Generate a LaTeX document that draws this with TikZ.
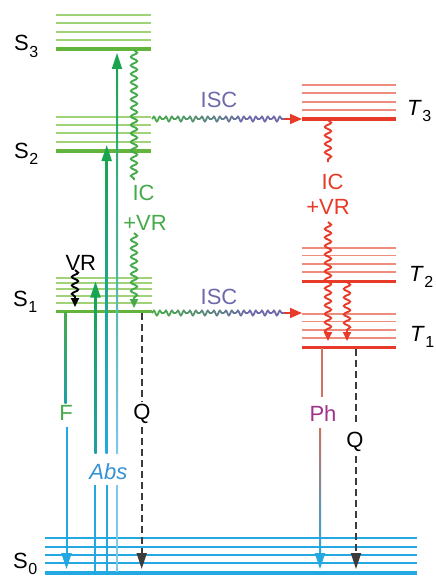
\documentclass[tikz,border=0pt]{standalone}
\usepackage{fontspec}
\setmainfont{Liberation Sans}
\usetikzlibrary{arrows.meta,decorations.pathmorphing}
\definecolor{sgreen}{RGB}{98,180,60}
\definecolor{sgreenlt}{RGB}{160,210,120}
\definecolor{sblue}{RGB}{35,168,225}
\definecolor{sbluelt}{RGB}{125,200,235}
\definecolor{tred}{RGB}{232,58,40}
\definecolor{tredlt}{RGB}{238,140,125}
\definecolor{absgreen}{RGB}{25,165,80}
\definecolor{absteal}{RGB}{30,160,165}
\definecolor{icgreen}{RGB}{70,170,75}
\definecolor{iscpurple}{RGB}{110,105,170}
\definecolor{phpurple}{RGB}{160,50,140}
\definecolor{phbrown}{RGB}{205,115,95}
\definecolor{abstext}{RGB}{55,145,210}
\definecolor{qgray}{RGB}{60,60,60}
\newcommand{\lvl}[2]{#1\kern0.5pt\raisebox{-6pt}{\fontsize{16}{16}\selectfont #2}}

\begin{document}
\begin{tikzpicture}[x=1pt,y=-1pt,font=\fontsize{22}{24}\selectfont,
  thinlvl/.style={line width=1.8pt},
  thicklvl/.style={line width=3.6pt},
  wig/.style={line width=1.9pt,decorate,decoration={snake,amplitude=3.2pt,segment length=8.5pt}},
  wigarr/.style={line width=1.9pt,decorate,decoration={snake,amplitude=3.2pt,segment length=8.5pt,post length=7pt},-{Triangle[length=9pt,width=8pt]}},
  iscwig/.style={line width=1.8pt,decorate,decoration={snake,amplitude=2.4pt,segment length=6pt}},
  bighead/.style={-{Triangle[length=16pt,width=10pt]}},
  quench/.style={qgray,line width=1.8pt,dash pattern=on 7pt off 4pt},
  lbl/.style={inner sep=0pt}]
  \useasboundingbox (0,0) rectangle (436,578);

  % singlet levels
  \foreach \y in {14.7,23.3,31.7,40} \draw[thinlvl,sgreenlt] (56,\y) -- (151,\y);
  \draw[thicklvl,sgreen] (56,49.3) -- (151,49.3);
  \foreach \y in {116.7,125,133.3,141.7} \draw[thinlvl,sgreenlt] (56,\y) -- (151,\y);
  \draw[thicklvl,sgreen] (56,150.7) -- (151,150.7);
  \foreach \y in {277.7,283.3,289.3,296,303} \draw[thinlvl,sgreenlt] (56,\y) -- (152,\y);
  \draw[thicklvl,sgreen] (56,311.5) -- (152,311.5);
  \foreach \y in {538.3,546.7,555,563.3} \draw[thinlvl,sblue] (45,\y) -- (417,\y);
  \draw[thicklvl,sblue] (45,572.7) -- (417,572.7);

  % triplet levels
  \foreach \y in {85,93.3,101.7,110} \draw[thinlvl,tredlt] (302,\y) -- (396,\y);
  \draw[thicklvl,tred] (302,119) -- (396,119);
  \foreach \y in {248,255.5,263.7,272} \draw[thinlvl,tredlt] (302,\y) -- (396,\y);
  \draw[thicklvl,tred] (302,281.5) -- (396,281.5);
  \foreach \y in {314,321.5,329.7,338} \draw[thinlvl,tredlt] (302,\y) -- (396,\y);
  \draw[thicklvl,tred] (302,347.5) -- (396,347.5);

  \node[lbl,anchor=base west] (s3) at (14,51) {\lvl{S}{3}};
  \node[lbl,anchor=base west] (s2) at (14,158.3) {\lvl{S}{2}};
  \node[lbl,anchor=base west] (s1) at (13,306) {\lvl{S}{1}};
  \node[lbl,anchor=base west] (s0) at (13,568) {\lvl{S}{0}};
  \node[lbl,anchor=base west] (t3) at (407,115) {\lvl{\textit{T}}{3}};
  \node[lbl,anchor=base west] (t2) at (409,281.6) {\lvl{\textit{T}}{2}};
  \node[lbl,anchor=base west] (t1) at (410,341) {\lvl{\textit{T}}{1}};

  % absorption
  \shade[top color=absgreen,bottom color=absteal] (94.5,290) rectangle (96.5,453);
  \shade[top color=absgreen,bottom color=sblue] (105.7,160) rectangle (107.7,453);
  \shade[top color=absgreen,bottom color=sbluelt] (116,60) rectangle (118,453);
  \draw[absgreen,line width=2pt,bighead] (95.5,300) -- (95.5,281.5);
  \draw[absgreen,line width=2pt,bighead] (106.7,165) -- (106.7,145);
  \draw[absgreen,line width=2pt,bighead] (117,72) -- (117,53);
  \draw[sblue,line width=2pt] (94.8,485) -- (94.8,572);
  \draw[sblue,line width=2pt] (106.7,485) -- (106.7,572);
  \draw[sbluelt,line width=2pt] (117.3,485) -- (117.3,572);
  \node[lbl,abstext] (abs) at (108.3,472) {\textit{Abs}};

  % internal conversion
  \draw[wig,icgreen] (134,50) -- (134,180);
  \draw[wigarr,icgreen] (134,233) -- (134,308);
  \node[lbl,icgreen] (ic1) at (143.5,192.5) {IC};
  \node[lbl,icgreen] (vr1) at (145,223) {+VR};
  \draw[wigarr,black] (75,270) -- (75,307);
  \node[lbl] (vr) at (80.8,262.5) {VR};

  \draw[wig,tred] (328,120) -- (328,162);
  \draw[wigarr,tred] (328,222) -- (328,341);
  \draw[wigarr,tred] (347,282) -- (347,341);
  \node[lbl,tred] (ic2) at (332.5,182) {IC};
  \node[lbl,tred] (vr2) at (328,207) {+VR};

  % intersystem crossing
  \foreach \y in {119,313}{
    \foreach \i in {0,...,10}{
      \pgfmathtruncatemacro\p{min(100,\i*13)}
      \draw[iscwig,iscpurple!\p!icgreen] ({152+\i*12},\y) -- ({164+\i*12},\y);
    }
    \draw[tred,line width=1.8pt,-{Triangle[length=12pt,width=10pt]}] (284,\y) -- (302,\y);
  }
  \node[lbl,iscpurple] (isc1) at (219,100) {ISC};
  \node[lbl,iscpurple] (isc2) at (219,297) {ISC};

  % fluorescence
  \shade[top color=icgreen,bottom color=absteal] (64.7,312) rectangle (66.7,403);
  \draw[sblue,line width=2pt,bighead] (66.5,427) -- (66.5,569);
  \node[lbl,icgreen] (f) at (66,413) {F};

  % phosphorescence
  \draw[phbrown,line width=1.8pt] (322,348) -- (322,397);
  \shade[top color=phbrown,bottom color=sblue] (319,428) rectangle (321,556);
  \draw[sblue,line width=2pt,bighead] (320,550) -- (320,569);
  \node[lbl,phpurple] (ph) at (323,414) {Ph};

  % quenching
  \draw[quench] (141.7,313) -- (141.7,402);
  \draw[quench,bighead] (141.7,427) -- (141.7,569);
  \node[lbl] (q1) at (142,413.5) {Q};
  \draw[quench] (356,349) -- (356,425);
  \draw[quench,bighead] (356,456) -- (356,569);
  \node[lbl] (q2) at (355,442) {Q};
\end{tikzpicture}
\end{document}
